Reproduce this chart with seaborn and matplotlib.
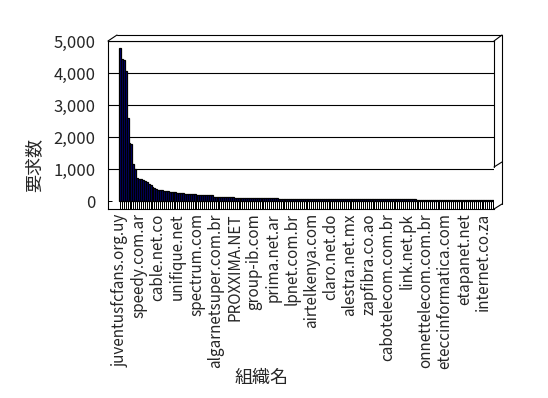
import matplotlib
matplotlib.use("Agg")
import matplotlib.pyplot as plt
import seaborn as sns
import pandas as pd

# organisations labelled on the axis (every 10th bar)
tick_labels = [
    'juventusfcfans.org.uy', 'speedy.com.ar', 'cable.net.co', 'unifique.net',
    'spectrum.com', 'algarnetsuper.com.br', 'PROXXIMA.NET', 'group-ib.com',
    'prima.net.ar', 'lpnet.com.br', 'airtelkenya.com', 'claro.net.do',
    'alestra.net.mx', 'zapfibra.co.ao', 'cabotelecom.com.br', 'link.net.pk',
    'onnettelecom.com.br', 'eteccinformatica.com', 'etapanet.net', 'internet.co.za',
]

# request counts per organisation, sorted descending
requests = [
    4770, 4430, 4420, 4060, 2580, 1800, 1790, 1160, 1000, 730,
    700, 690, 660, 620, 600, 540, 500, 450, 420, 380,
    345, 342, 340, 310, 307, 303, 275, 272, 270, 268,
    265, 240, 238, 235, 232, 220, 218, 215, 212, 210,
    200, 198, 195, 193, 190, 188, 185, 182, 180, 130,
    128, 127, 126, 125, 124, 123, 122, 121, 120, 120,
    108, 107, 106, 105, 105, 104, 104, 103, 103, 102,
    102, 101, 100, 88, 87, 86, 86, 85, 85, 84,
    84, 83, 83, 68, 67, 67, 66, 66, 65, 65,
    65, 64, 64, 64, 63, 63, 63, 62, 62, 62,
    61, 61, 61, 60, 60, 55, 55, 55, 55, 54,
    54, 54, 54, 54, 54, 53, 53, 53, 53, 53,
    53, 53, 52, 52, 52, 52, 52, 52, 52, 52,
    51, 51, 51, 51, 51, 51, 51, 51, 51, 51,
    50, 50, 50, 50, 50, 50, 50, 50, 50, 50,
    50, 50, 50, 50, 50, 26, 26, 26, 25, 25,
    25, 25, 25, 24, 24, 24, 24, 24, 23, 23,
    23, 23, 23, 22, 22, 22, 22, 22, 22, 21,
    21, 21, 21, 21, 21, 21, 20, 20, 20, 20,
    20, 20, 20, 20, 20, 20,
]

df = pd.DataFrame({'rank': range(len(requests)), 'requests': requests})

sns.set_style("white")
plt.rcParams['font.family'] = ['Noto Sans CJK JP', 'DejaVu Sans']

W, H = 548, 398
fig = plt.figure(figsize=(W / 100, H / 100), dpi=100)


def box(x0, y0, x1, y1):
    return [x0 / W, 1 - y1 / H, (x1 - x0) / W, (y1 - y0) / H]


ax = fig.add_axes(box(108, 41, 494, 209))
sns.barplot(data=df, x='rank', y='requests', color='#000080', saturation=1,
            edgecolor='black', linewidth=0.9, width=1.0, ax=ax)

n = len(requests)
ax.set_xlim(-6.25, n - 0.5)
ax.set_ylim(-250, 5000)

ax.set_xticks(range(0, n, 10))
ax.set_xticklabels(tick_labels, rotation=90, fontsize=11)
ax.set_xticks(range(n), minor=True)
ax.tick_params(axis='x', which='both', direction='in', length=5.8, width=0.72,
               color='black', pad=3, bottom=True)

ax.set_yticks(range(0, 5001, 1000))
ax.set_yticklabels([f'{v:,}' for v in range(0, 5001, 1000)], fontsize=12)
ax.tick_params(axis='y', direction='in', length=3, width=0.72, color='black',
               pad=9, left=True)

ax.yaxis.grid(True, color='black', linewidth=0.8)
ax.get_ygridlines()[0].set_visible(False)
ax.set_axisbelow(True)

for side in ['left', 'bottom', 'top']:
    ax.spines[side].set_color('black')
    ax.spines[side].set_linewidth(0.8)
ax.spines['right'].set_visible(False)
ax.set_xlabel('')
ax.set_ylabel('')

# 3D-style frame around the plot
deco = fig.add_axes([0, 0, 1, 1], zorder=3)
deco.set_xlim(0, W)
deco.set_ylim(H, 0)
deco.axis('off')
frame = [
    ((108, 117), (41, 35)),
    ((117, 502), (35, 35)),
    ((494, 502), (41, 35)),
    ((502, 502), (35, 204)),
    ((494, 494), (41, 167)),
    ((494, 502), (167, 162)),
    ((494, 502), (209, 204)),
]
for xs, ys in frame:
    deco.plot(xs, ys, color='black', linewidth=0.8)

fig.text(34 / W, 1 - 165 / H, '要求数', rotation=90, fontsize=13,
         ha='center', va='center')
fig.text(262 / W, 1 - 378 / H, '組織名', fontsize=13, ha='center', va='center')

fig.savefig('out.png', dpi=100, facecolor='white')
